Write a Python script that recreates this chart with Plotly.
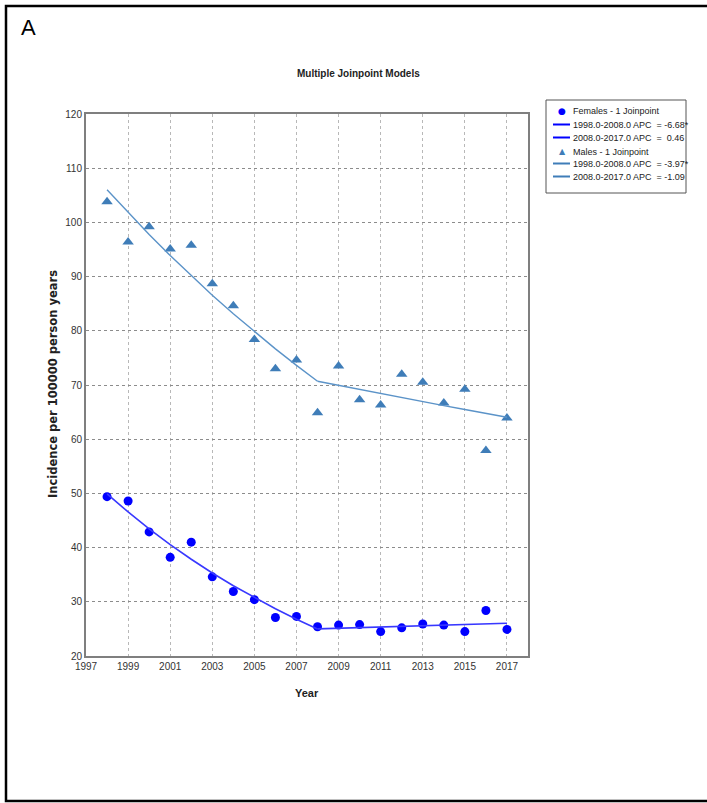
import plotly.graph_objects as go

# Observed incidence per 100000 person years
years = list(range(1998, 2018))
female_rate = [49.4, 48.6, 42.9, 38.2, 41.0, 34.6, 31.9, 30.4, 27.1, 27.3,
               25.4, 25.7, 25.8, 24.5, 25.2, 25.9, 25.7, 24.5, 28.4, 24.9]
male_rate = [103.8, 96.4, 99.2, 95.1, 95.8, 88.7, 84.6, 78.4, 73.0, 74.6,
             64.9, 73.5, 67.3, 66.3, 72.0, 70.5, 66.7, 69.2, 57.9, 63.9]

# Joinpoint model: segments, annual percent change and fitted value at the joinpoint
joinpoint_year = 2008
segments = [(1998, 2008), (2008, 2017)]
female_apc = [-6.68, 0.46]
female_apc_sig = ["*", ""]
female_fit_at_join = 25.0
male_apc = [-3.97, -1.09]
male_apc_sig = ["*", ""]
male_fit_at_join = 70.7

x_ticks = list(range(1997, 2018, 2))
y_ticks = list(range(20, 121, 10))

SANS = "Liberation Sans, Arial, sans-serif"
WIDE = "DejaVu Sans, Verdana, sans-serif"
FEMALE_COLOR = "#0000FF"
FEMALE_LINE = "#3838FF"
MALE_COLOR = "#3F7DB8"
MALE_LINE = "#5B93C8"

W, H = 707, 803
# plot area in pixels (for placing free text relative to it)
PX_L, PX_R, PX_T, PX_B = 86, 528, 114, 656


def px_x(px):
    return (px - PX_L) / (PX_R - PX_L)


def px_y(py):
    return (PX_B - py) / (PX_B - PX_T)


def segment_fit(at_join, apc, start, end):
    xs = list(range(start, end + 1))
    ys = [at_join * (1 + apc / 100.0) ** (x - joinpoint_year) for x in xs]
    return xs, ys


def apc_label(seg, apc, sig):
    s, e = seg
    sign = "-" if apc < 0 else "&nbsp;"
    return f"{s:.1f}-{e:.1f} APC&nbsp; = {sign}{abs(apc):.2f}{sig}"


def text_at(text, px, py, font, xanchor="center", angle=0):
    return dict(text=text, xref="paper", yref="paper", x=px_x(px), y=px_y(py),
                showarrow=False, xanchor=xanchor, yanchor="middle",
                textangle=angle, font=font)


fig = go.Figure()

legend_rows = []  # (kind, color, text)

fig.add_trace(go.Scatter(
    x=years, y=female_rate, mode="markers", name="Females - 1 Joinpoint",
    marker=dict(symbol="circle", size=9, color=FEMALE_COLOR),
))
legend_rows.append(("●", FEMALE_COLOR, "Females - 1 Joinpoint"))
for seg, apc, sig in zip(segments, female_apc, female_apc_sig):
    xs, ys = segment_fit(female_fit_at_join, apc, *seg)
    label = apc_label(seg, apc, sig)
    fig.add_trace(go.Scatter(
        x=xs, y=ys, mode="lines", name=label,
        line=dict(color=FEMALE_LINE, width=1.6),
    ))
    legend_rows.append(("line", FEMALE_COLOR, label))

fig.add_trace(go.Scatter(
    x=years, y=male_rate, mode="markers", name="Males - 1 Joinpoint",
    marker=dict(symbol="triangle-up", size=10, color=MALE_COLOR),
))
legend_rows.append(("▲", MALE_COLOR, "Males - 1 Joinpoint"))
for seg, apc, sig in zip(segments, male_apc, male_apc_sig):
    xs, ys = segment_fit(male_fit_at_join, apc, *seg)
    label = apc_label(seg, apc, sig)
    fig.add_trace(go.Scatter(
        x=xs, y=ys, mode="lines", name=label,
        line=dict(color=MALE_LINE, width=1.4),
    ))
    legend_rows.append(("line", MALE_COLOR, label))

axis_common = dict(
    showline=True, linecolor="#7f7f7f", linewidth=2, mirror=True,
    showgrid=True, griddash="dot", gridwidth=1,
    zeroline=False, ticks="",
    tickfont=dict(family=SANS, size=10, color="#333333"),
)

fig.update_xaxes(range=[1997, 2018], tickvals=x_ticks, gridcolor="#b8b8b8",
                 **axis_common)
fig.update_yaxes(range=[20, 120], tickvals=y_ticks, gridcolor="#8c8c8c",
                 **axis_common)

# Outer panel frame and legend box drawn in paper space
shapes = [
    dict(type="rect", xref="paper", yref="paper",
         x0=px_x(6), x1=px_x(760), y0=px_y(801), y1=px_y(6),
         line=dict(color="black", width=2.5), fillcolor="rgba(0,0,0,0)",
         layer="above"),
    dict(type="rect", xref="paper", yref="paper",
         x0=px_x(546), x1=px_x(686), y0=px_y(193), y1=px_y(100),
         line=dict(color="#555555", width=1), fillcolor="white"),
]
annotations = []
row_y = [111.5, 124.5, 137.5, 151.5, 163.5, 176.5]
for (kind, color, text), ry in zip(legend_rows, row_y):
    if kind == "line":
        shapes.append(dict(type="line", xref="paper", yref="paper",
                           x0=px_x(553), x1=px_x(570), y0=px_y(ry), y1=px_y(ry),
                           line=dict(color=color, width=2)))
    else:
        annotations.append(text_at(
            kind, 562, ry,
            dict(family=WIDE, size=8 if kind == "▲" else 9, color=color)))
    annotations.append(text_at(
        text, 571, ry, dict(family=SANS, size=9, color="#222222"),
        xanchor="left"))

annotations += [
    text_at("A", 29, 27, dict(family=SANS, size=22, color="black")),
    text_at("<b>Multiple Joinpoint Models</b>", 358, 73,
            dict(family=SANS, size=10, color="#222222")),
    text_at("<b>Incidence per 100000 person years</b>", 53, 384,
            dict(family=WIDE, size=11.5, color="#222222"), angle=-90),
    text_at("<b>Year</b>", 307, 693,
            dict(family=SANS, size=11, color="#222222")),
]

fig.update_layout(
    width=W, height=H,
    margin=dict(l=PX_L, r=W - PX_R, t=PX_T, b=H - PX_B, autoexpand=False),
    paper_bgcolor="white", plot_bgcolor="white",
    showlegend=False,
    shapes=shapes,
    annotations=annotations,
)

fig.write_html("out.html")
